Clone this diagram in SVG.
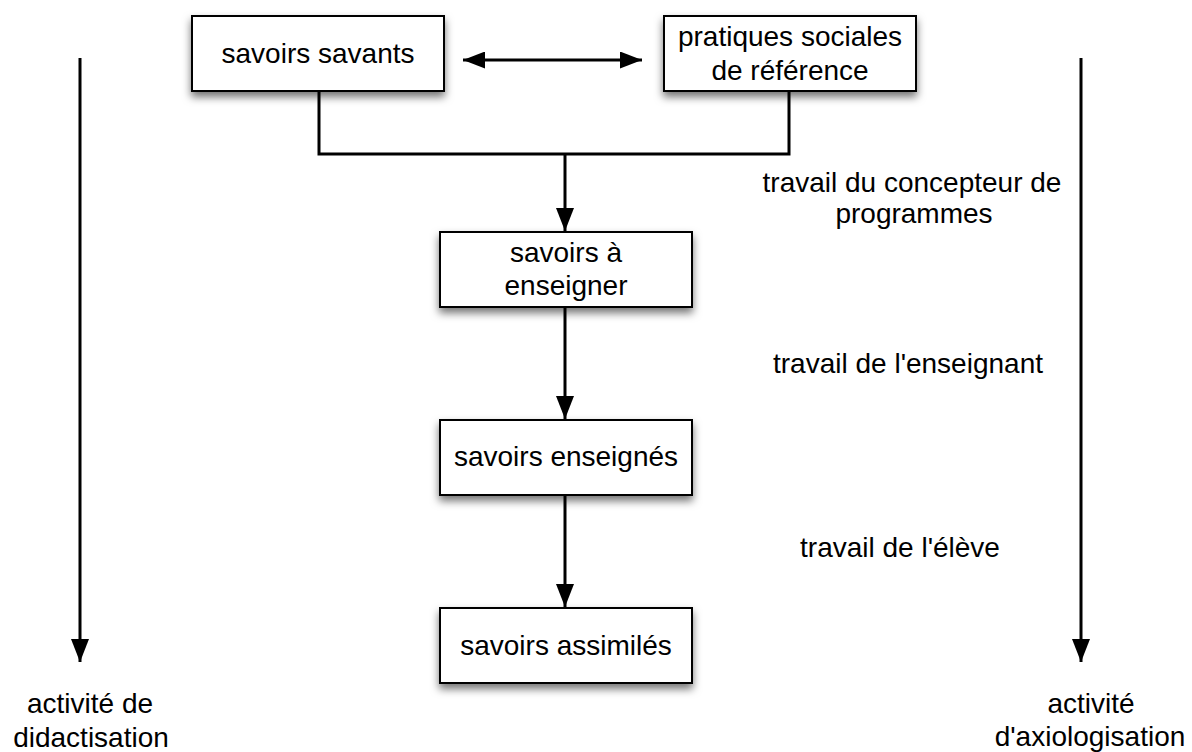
<svg xmlns="http://www.w3.org/2000/svg" width="1192" height="752" viewBox="0 0 1192 752">
<style>
  text { font-family: "Liberation Sans", Arial, Helvetica, sans-serif; font-size: 28px; fill: #000; }
  .c { text-anchor: middle; }
  .box { fill: #fff; stroke: #000; stroke-width: 2; filter: url(#shadow); }
  .con { fill: none; stroke: #000; stroke-width: 3; }
</style>
<defs>
  <filter id="shadow" x="-20%" y="-30%" width="140%" height="170%">
    <feDropShadow dx="0" dy="5" stdDeviation="4" flood-color="#000" flood-opacity="0.55"/>
  </filter>
  <marker id="arr" viewBox="0 0 23 18" refX="23" refY="9" markerWidth="23" markerHeight="18" markerUnits="userSpaceOnUse" orient="auto-start-reverse">
    <path d="M0,0 L23,9 L0,18 Z" fill="#000"/>
  </marker>
  <marker id="arr2" viewBox="0 0 22 17" refX="22" refY="8.5" markerWidth="22" markerHeight="17" markerUnits="userSpaceOnUse" orient="auto-start-reverse">
    <path d="M0,0 L22,8.5 L0,17 Z" fill="#000"/>
  </marker>
</defs>
<rect width="1192" height="752" fill="#fff"/>

<g id="connectors">
  <line class="con" x1="463" y1="60" x2="642" y2="60" marker-start="url(#arr2)" marker-end="url(#arr2)"/>
  <polyline class="con" points="319,91 319,154 789,154 789,91"/>
  <line class="con" x1="565" y1="154" x2="565" y2="231" marker-end="url(#arr)"/>
  <line class="con" x1="565" y1="307" x2="565" y2="419" marker-end="url(#arr)"/>
  <line class="con" x1="565" y1="495" x2="565" y2="607" marker-end="url(#arr)"/>
  <line class="con" x1="80" y1="58" x2="80" y2="662" marker-end="url(#arr)"/>
  <line class="con" x1="1081" y1="58" x2="1081" y2="662" marker-end="url(#arr)"/>
</g>

<g id="savoirs-savants">
  <rect class="box" x="192" y="16" width="252" height="75"/>
  <text class="c" x="318" y="63">savoirs savants</text>
</g>
<g id="pratiques-sociales">
  <rect class="box" x="664" y="16" width="252" height="75"/>
  <text class="c" x="790" y="46">pratiques sociales</text>
  <text class="c" x="790" y="80">de référence</text>
</g>
<g id="savoirs-a-enseigner">
  <rect class="box" x="440" y="232" width="252" height="75"/>
  <text class="c" x="566" y="262">savoirs à</text>
  <text class="c" x="566" y="295">enseigner</text>
</g>
<g id="savoirs-enseignes">
  <rect class="box" x="440" y="420" width="252" height="75"/>
  <text class="c" x="566" y="466">savoirs enseignés</text>
</g>
<g id="savoirs-assimiles">
  <rect class="box" x="440" y="608" width="252" height="75"/>
  <text class="c" x="566" y="655">savoirs assimilés</text>
</g>

<g id="label-concepteur">
  <text class="c" x="912" y="192">travail du concepteur de</text>
  <text class="c" x="914" y="223">programmes</text>
</g>
<g id="label-enseignant">
  <text class="c" x="908" y="373">travail de l'enseignant</text>
</g>
<g id="label-eleve">
  <text class="c" x="900" y="557">travail de l'élève</text>
</g>
<g id="label-didactisation">
  <text class="c" x="90" y="713">activité de</text>
  <text class="c" x="91" y="747">didactisation</text>
</g>
<g id="label-axiologisation">
  <text class="c" x="1091" y="713">activité</text>
  <text class="c" x="1090" y="746">d'axiologisation</text>
</g>
</svg>
